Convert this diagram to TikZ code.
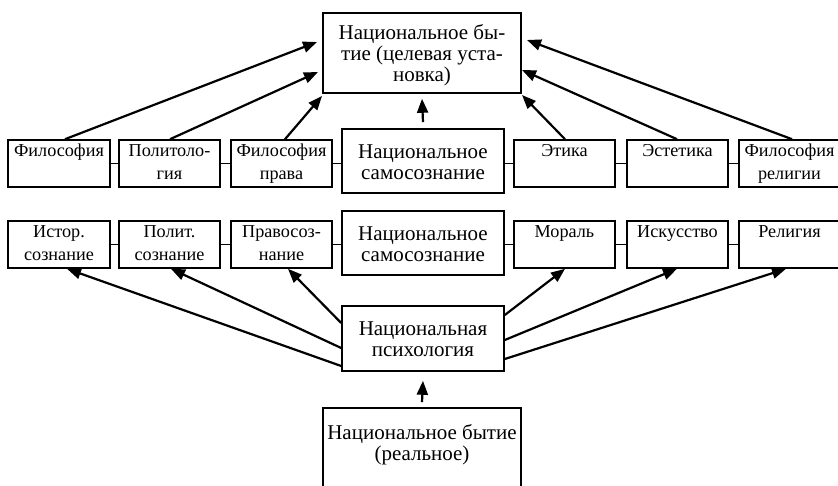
\documentclass[tikz,border=0pt]{standalone}
\usepackage{fontspec}
\setmainfont{Liberation Serif}
\usetikzlibrary{arrows.meta}
\newcommand\hst{\rule{0pt}{21.5pt}}
\begin{document}
\begin{tikzpicture}[x=1pt,y=-1pt,
 bx/.style={draw,line width=1.6pt,inner sep=0pt,align=center},
 sm/.style={bx,minimum width=101pt,minimum height=47pt,font=\fontsize{18.2}{23}\selectfont},
 lg/.style={bx,font=\fontsize{21}{21}\selectfont},
 lgtxt/.style={align=center,inner sep=0pt,font=\fontsize{21}{21}\selectfont},
 arr/.style={line width=2.2pt,-{Triangle[length=14pt,width=11pt]}},
 lnk/.style={line width=1pt}]
\clip (0,0) rectangle (838,485);
% top box
\node[lg,minimum width=198pt,minimum height=80pt] (top) at (422,53) {\hst Национальное бы-\\\strut тие (целевая уста-\\\strut новка)};
% row 1
\node[sm,minimum width=102pt] (f1) at (59,163.5) {\strut Философия\\\strut};
\node[sm] (f2) at (169.5,163.5) {\strut Политоло-\\\strut гия};
\node[sm] (f3) at (281.5,163.5) {\strut Философия\\\strut права};
\node[lg,minimum width=162pt,minimum height=64pt] (c1) at (423,161) {\hst Национальное\\\strut самосознание};
\node[sm] (f4) at (564.5,163.5) {\strut Этика\\\strut};
\node[sm] (f5) at (677.5,163.5) {\strut Эстетика\\\strut};
\node[sm] (f6) at (789.5,163.5) {\strut Философия\\\strut религии};
% row 2
\node[sm,minimum width=102pt] (g1) at (59,244.5) {\strut Истор.\\\strut сознание};
\node[sm] (g2) at (169.5,244.5) {\strut Полит.\\\strut сознание};
\node[sm] (g3) at (281.5,244.5) {\strut Правосоз-\\\strut нание};
\node[lg,minimum width=162pt,minimum height=64pt] (c2) at (423,243) {\hst Национальное\\\strut самосознание};
\node[sm] (g4) at (564.5,244.5) {\strut Мораль\\\strut};
\node[sm] (g5) at (677.5,244.5) {\strut Искусство\\\strut};
\node[sm] (g6) at (789.5,244.5) {\strut Религия\\\strut};
% psychology
\node[lg,minimum width=162pt,minimum height=65pt] (psy) at (423,338.5) {\hst Национальная\\\strut психология};
% bottom
\node[bx,minimum width=198pt,minimum height=80pt] (bot) at (422,448) {};
\node[lgtxt] (botlbl) at (422,446) {\strut Национальное бытие\\\strut (реальное)};
% links
\draw[lnk] (f1.east) -- (f2.west);
\draw[lnk] (f2.east) -- (f3.west);
\draw[lnk] (f3.east) -- (f3.east -| c1.west);
\draw[lnk] (f4.west -| c1.east) -- (f4.west);
\draw[lnk] (f4.east) -- (f5.west);
\draw[lnk] (f5.east) -- (f6.west);
\draw[lnk] (g1.east) -- (g2.west);
\draw[lnk] (g2.east) -- (g3.west);
\draw[lnk] (g3.east) -- (g3.east -| c2.west);
\draw[lnk] (g4.west -| c2.east) -- (g4.west);
\draw[lnk] (g4.east) -- (g5.west);
\draw[lnk] (g5.east) -- (g6.west);
% arrow tips at top box
\coordinate (t1) at (317,42);
\coordinate (t2) at (318,72);
\coordinate (t3) at (322,96);
\coordinate (t4) at (522,95);
\coordinate (t5) at (522,70);
\coordinate (t6) at (527,40);
\draw[arr] ([xshift=6pt]f1.north) -- (t1);
\draw[arr] ([xshift=0.5pt]f2.north) -- (t2);
\draw[arr] ([xshift=3.5pt]f3.north) -- (t3);
\draw[arr] ([xshift=0.5pt]f4.north) -- (t4);
\draw[arr] ([xshift=-0.5pt]f5.north) -- (t5);
\draw[arr] ([xshift=2.5pt]f6.north) -- (t6);
\draw[arr] ([yshift=6pt]c1.north) -- ([yshift=-5pt]top.south);
% lower arrows
\draw[arr] ([yshift=15.5pt]psy.west) -- ([xshift=6.5pt]g3.south);
\draw[arr] ([yshift=-9.5pt]psy.west) -- ([xshift=1.5pt]g2.south);
\draw[arr] ([yshift=-27.5pt]psy.west) -- ([xshift=8pt]g1.south);
\draw[arr] ([yshift=23.5pt]psy.east) -- ([xshift=0.5pt]g4.south);
\draw[arr] ([yshift=-1.5pt]psy.east) -- ([xshift=-0.5pt]g5.south);
\draw[arr] ([yshift=-20.5pt]psy.east) -- ([xshift=-3.5pt]g6.south);
\draw[arr] ([yshift=5pt]bot.north) -- ([yshift=-9pt]psy.south);
\end{tikzpicture}
\end{document}
